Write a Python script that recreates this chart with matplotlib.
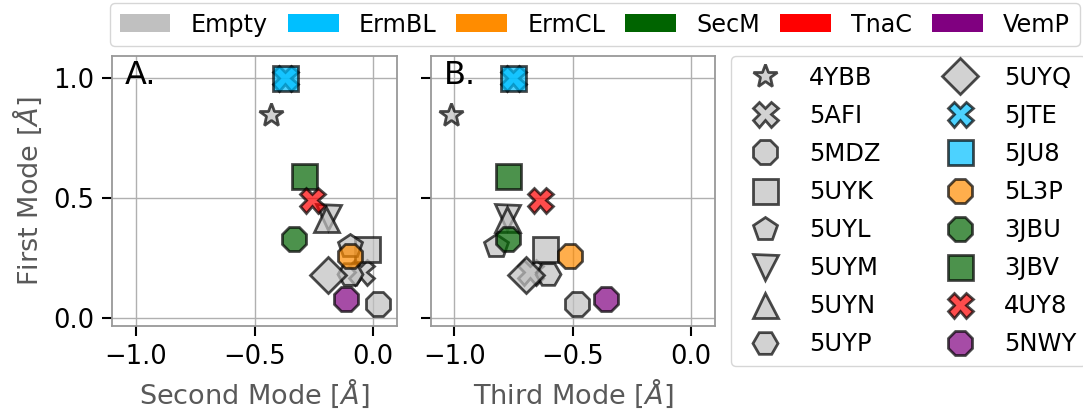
import matplotlib
matplotlib.use("Agg")
import matplotlib.pyplot as plt
from matplotlib.lines import Line2D
from matplotlib.patches import Patch

# ---- data ----
structures = ['4YBB', '5AFI', '5MDZ', '5UYK', '5UYL', '5UYM', '5UYN', '5UYP', '5UYQ',
              '5JTE', '5JU8', '5L3P', '3JBU', '3JBV', '4UY8', '5NWY']
groups = ['Empty'] * 9 + ['ErmBL', 'ErmBL', 'ErmCL', 'SecM', 'SecM', 'TnaC', 'VemP']
first_mode = [0.845, 0.19, 0.055, 0.287, 0.30, 0.42, 0.41, 0.18, 0.178,
              1.0, 1.0, 0.256, 0.326, 0.588, 0.488, 0.077]
second_mode = [-0.431, -0.05, 0.022, -0.028, -0.096, -0.19, -0.20, -0.10, -0.191,
               -0.37, -0.37, -0.096, -0.333, -0.293, -0.257, -0.114]
third_mode = [-1.014, -0.68, -0.482, -0.617, -0.826, -0.777, -0.78, -0.603, -0.696,
              -0.753, -0.753, -0.513, -0.774, -0.774, -0.638, -0.359]
group_names = ['Empty', 'ErmBL', 'ErmCL', 'SecM', 'TnaC', 'VemP']
group_colors = ['silver', 'deepskyblue', 'darkorange', 'darkgreen', 'red', 'purple']
markers = ['*', 'X', '8', 's', 'p', 'v', '^', 'H', 'D',
           'X', 's', '8', '8', 's', 'X', '8']
ticks_x = [-1.0, -0.5, 0.0]
ticks_y = [0.0, 0.5, 1.0]

color_of = dict(zip(group_names, group_colors))

W, H = 1083, 416
fig = plt.figure(figsize=(W / 100, H / 100), dpi=100)

axA = fig.add_axes([112 / W, 1 - 326 / H, 285 / W, 270 / H])
axB = fig.add_axes([430.7 / W, 1 - 326 / H, 284.3 / W, 270 / H])

MS = 18
ALPHA = 0.7
LW = 2.0

for ax, xs, xlabel, tag in [(axA, second_mode, 'Second Mode [$\\AA$]', 'A.'),
                            (axB, third_mode, 'Third Mode [$\\AA$]', 'B.')]:
    for x, y, m, g in zip(xs, first_mode, markers, groups):
        ax.plot([x], [y], linestyle='none', marker=m, markersize=MS,
                markerfacecolor=color_of[g], markeredgecolor='black',
                markeredgewidth=LW, alpha=ALPHA, zorder=3)
    ax.set_xlim(-1.1, 0.1)
    ax.set_ylim(-0.035, 1.09)
    ax.set_xticks(ticks_x)
    ax.set_yticks(ticks_y)
    ax.grid(True, color='#b0b0b0', linewidth=1.0, zorder=0)
    ax.set_axisbelow(True)
    for sp in ax.spines.values():
        sp.set_color('0.6')
        sp.set_linewidth(1.3)
    ax.tick_params(axis='both', labelsize=18.5, length=7, width=1.5, color='black',
                   pad=6)
    ax.set_xlabel(xlabel, fontsize=19.5, color='0.35', labelpad=5)
    ax.text(0.045, 0.985, tag, transform=ax.transAxes, fontsize=23,
            va='top', ha='left', zorder=5)

axA.set_ylabel('First Mode [$\\AA$]', fontsize=19.5, color='0.35', labelpad=6)
axB.tick_params(axis='y', labelleft=False)

# top legend: groups
patches = [Patch(facecolor=c, edgecolor='none', label=n)
           for n, c in zip(group_names, group_colors)]
fig.legend(handles=patches, loc='upper left', bbox_to_anchor=(110 / W, 1 - 3 / H),
           ncol=6, fontsize=17.2, columnspacing=0.84, handlelength=2.13,
           handleheight=0.78, handletextpad=0.84, borderaxespad=0, frameon=True)

# right legend: structures
handles = [Line2D([0], [0], linestyle='none', marker=m, markersize=MS,
                  markerfacecolor=color_of[g], markeredgecolor='black',
                  markeredgewidth=LW, alpha=ALPHA, label=s)
           for s, m, g in zip(structures, markers, groups)]
fig.legend(handles=handles, loc='upper left', bbox_to_anchor=(731 / W, 1 - 56 / H),
           ncol=2, fontsize=17.5, columnspacing=2.3, labelspacing=0.58,
           handletextpad=0.8, borderaxespad=0, frameon=True)

fig.savefig('out.png', dpi=100)
